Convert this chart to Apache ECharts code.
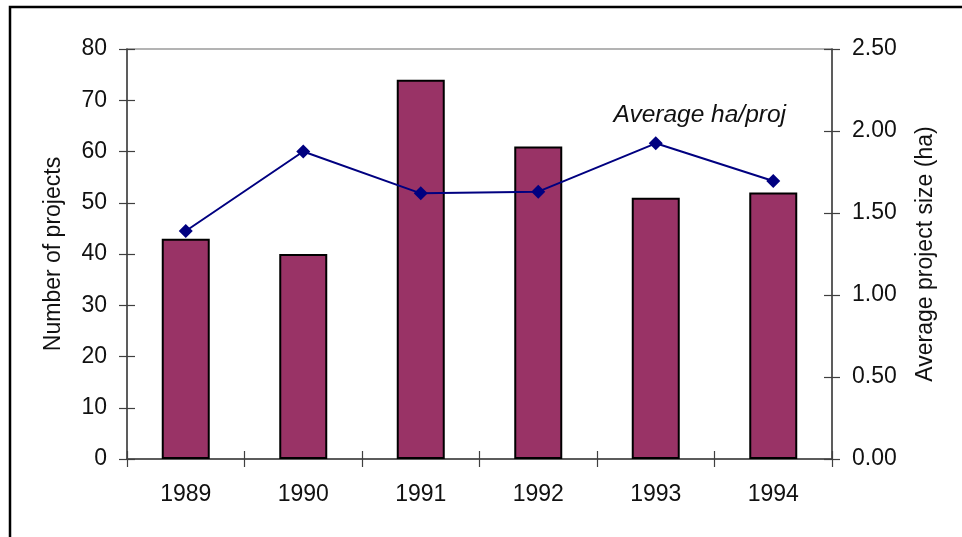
<!DOCTYPE html>
<html>
<head>
<meta charset="utf-8">
<script src="https://cdn.jsdelivr.net/npm/echarts@6/dist/echarts.min.js"></script>
<style>
  html, body { margin: 0; padding: 0; background: #fff; }
  #chart { width: 962px; height: 537px; }
</style>
</head>
<body>
<div id="chart"></div>
<script>
// Project counts per year (bars, left axis) and average size per project (line, right axis)
const years = ['1989', '1990', '1991', '1992', '1993', '1994'];
const projectCounts = [43, 40, 74, 61, 51, 52];
const avgSizeHa = [1.39, 1.875, 1.62, 1.63, 1.925, 1.695];
const lineLabelText = 'Average ha/proj';
const lineLabelYear = '1993';

const FONT = '"Liberation Sans", Arial, sans-serif';
const FS = 23;
const TXT = '#111';
const AXIS = '#404040';

const chart = echarts.init(document.getElementById('chart'));

const lineData = avgSizeHa.map((v, i) => {
  if (years[i] !== lineLabelYear) return v;
  return {
    value: v,
    label: {
      show: true,
      position: 'inside',
      offset: [44, -28],
      formatter: lineLabelText,
      fontFamily: FONT,
      fontSize: 24.5,
      fontStyle: 'italic',
      color: TXT
    }
  };
});

// a second, label-less copy of an axis supplies the inward half of each crossing tick
const innerTick = { show: true, inside: true, length: 8, lineStyle: { color: AXIS, width: 1.2 } };
const outerTick = { show: true, inside: false, length: 8, lineStyle: { color: AXIS, width: 1.2 } };

chart.setOption({
  animation: false,
  backgroundColor: '#fff',
  grid: {
    left: 127, right: 130, top: 49, bottom: 78,
    show: true, borderColor: '#9a9a9a', borderWidth: 1.5, backgroundColor: 'transparent'
  },
  graphic: [{
    type: 'rect',
    shape: { x: 10, y: 7, width: 970, height: 560 },
    style: { fill: 'none', stroke: '#000', lineWidth: 2.5 },
    silent: true, z: -1
  }],
  xAxis: [{
    type: 'category',
    data: years,
    position: 'bottom',
    axisLine: { show: true, lineStyle: { color: AXIS, width: 1.5 } },
    axisTick: outerTick,
    axisLabel: { fontFamily: FONT, fontSize: FS, color: TXT, margin: 24 },
    splitLine: { show: false }
  }, {
    type: 'category',
    data: years,
    position: 'bottom',
    axisLine: { show: false },
    axisTick: innerTick,
    axisLabel: { show: false },
    splitLine: { show: false }
  }],
  yAxis: [{
    type: 'value',
    position: 'left',
    min: 0, max: 80, interval: 10,
    name: 'Number of projects',
    nameLocation: 'middle',
    nameRotate: 90,
    nameGap: 62,
    nameTextStyle: { fontFamily: FONT, fontSize: FS, color: TXT },
    axisLine: { show: true, lineStyle: { color: AXIS, width: 1.5 } },
    axisTick: outerTick,
    axisLabel: { fontFamily: FONT, fontSize: FS, color: TXT, margin: 20 },
    splitLine: { show: false }
  }, {
    type: 'value',
    position: 'right',
    min: 0, max: 2.5, interval: 0.5,
    name: 'Average project size (ha)',
    nameLocation: 'middle',
    nameRotate: 90,
    nameGap: 82,
    nameTextStyle: { fontFamily: FONT, fontSize: FS, color: TXT },
    axisLine: { show: true, lineStyle: { color: AXIS, width: 1.5 } },
    axisTick: outerTick,
    axisLabel: { fontFamily: FONT, fontSize: FS, color: TXT, margin: 20,
                 formatter: v => v.toFixed(2) },
    splitLine: { show: false }
  }, {
    type: 'value', position: 'left', min: 0, max: 80, interval: 10,
    axisLine: { show: false }, axisTick: innerTick, axisLabel: { show: false }, splitLine: { show: false }
  }, {
    type: 'value', position: 'right', min: 0, max: 2.5, interval: 0.5,
    axisLine: { show: false }, axisTick: innerTick, axisLabel: { show: false }, splitLine: { show: false }
  }],
  series: [{
    type: 'bar',
    name: 'Number of projects',
    data: projectCounts,
    xAxisIndex: 0,
    yAxisIndex: 0,
    barWidth: 48,
    itemStyle: { color: '#993366', borderColor: '#000', borderWidth: 2 },
    z: 2
  }, {
    type: 'line',
    name: 'Average project size (ha)',
    data: lineData,
    xAxisIndex: 0,
    yAxisIndex: 1,
    symbol: 'diamond',
    symbolSize: 14,
    lineStyle: { color: '#000080', width: 2 },
    itemStyle: { color: '#000080' },
    z: 3
  }]
});
</script>
</body>
</html>
